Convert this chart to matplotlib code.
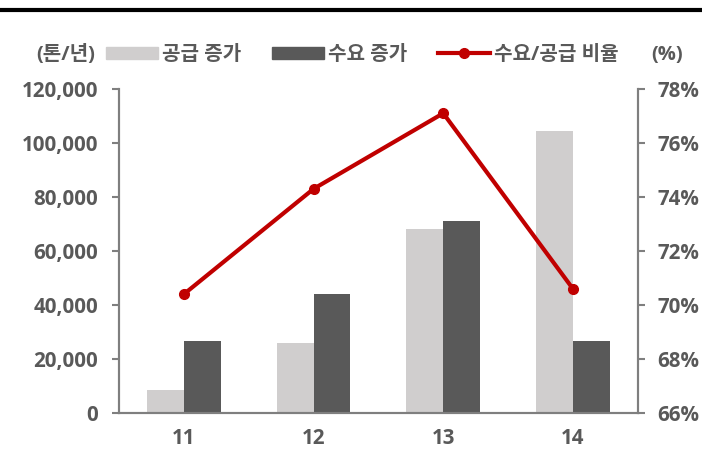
import matplotlib
matplotlib.use('Agg')
import matplotlib.pyplot as plt
import numpy as np
from matplotlib.patches import Patch
from matplotlib.lines import Line2D

plt.rcParams['font.family'] = ['Open Sans', 'Noto Sans CJK KR', 'DejaVu Sans']

# data
years = ['11', '12', '13', '14']
supply_inc = [8500, 26000, 68000, 104500]
demand_inc = [26500, 44000, 71000, 26500]
ratio = [70.4, 74.3, 77.1, 70.6]

light = '#D0CECE'
dark = '#595959'
red = '#C00000'
txt = '#595959'
fs = 14.8
lfs = 14.5

fig = plt.figure(figsize=(7.02, 4.57), dpi=100)
ax = fig.add_axes([0.1695, 0.0963, 0.739, 0.709])

x = np.arange(len(years))
w = 0.285
ax.bar(x - w / 2, supply_inc, w, color=light)
ax.bar(x + w / 2, demand_inc, w, color=dark)
ax.set_xlim(-0.5, 3.5)
ax.set_ylim(0, 120000)
ax.set_yticks(np.arange(0, 120001, 20000))
ax.set_yticklabels([f'{v:,}' for v in range(0, 120001, 20000)])
ax.set_xticks(x)
ax.set_xticklabels(years)

ax2 = ax.twinx()
ax2.plot(x, ratio, color=red, lw=3, marker='o', ms=7)
ax2.set_ylim(66, 78)
ax2.set_yticks(np.arange(66, 79, 2))
ax2.set_yticklabels([f'{v}%' for v in range(66, 79, 2)])

for a in (ax, ax2):
    for s in a.spines.values():
        s.set_color('#7F7F7F')
        s.set_linewidth(1.5)
    a.spines['top'].set_visible(False)
    a.tick_params(colors='#7F7F7F', width=1.5, length=5, labelcolor=txt, labelsize=fs)
    for lab in a.get_yticklabels() + a.get_xticklabels():
        lab.set_fontweight('bold')
ax.tick_params(axis='x', length=0, pad=11)
ax.tick_params(axis='y', pad=10)
ax2.tick_params(axis='y', pad=9)

handles = [Patch(color=light), Patch(color=dark),
           Line2D([], [], color=red, lw=3, marker='o', ms=7)]
labels = ['공급 증가', '수요 증가', '수요/공급 비율']
fig.legend(handles, labels, ncol=3, loc='center', bbox_to_anchor=(0.516, 0.88),
           frameon=False, prop={'size': lfs, 'weight': 'bold'}, labelcolor=txt,
           handlelength=2.6, handletextpad=0.2, columnspacing=1.5, handleheight=0.55)
fig.text(0.094, 0.88, '(톤/년)', ha='center', va='center', fontsize=lfs,
         fontweight='bold', color=txt)
fig.text(0.950, 0.88, '(%)', ha='center', va='center', fontsize=lfs,
         fontweight='bold', color=txt)

fig.add_artist(Line2D([0, 1], [0.978, 0.978], color='black', lw=3,
                      transform=fig.transFigure))

fig.savefig('out.png', dpi=100)
